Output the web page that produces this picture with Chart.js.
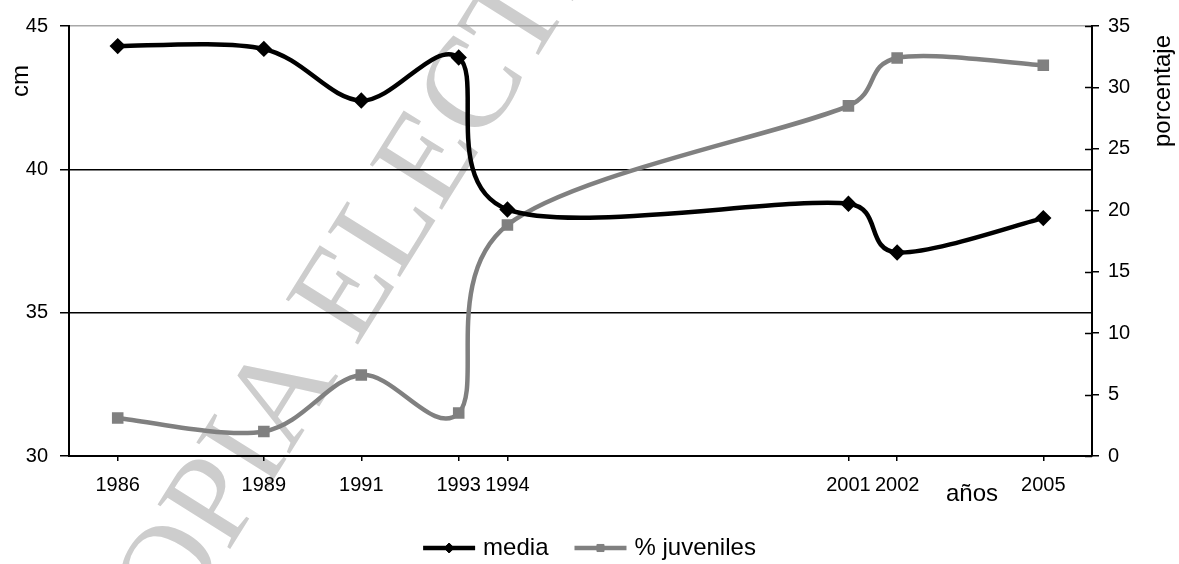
<!DOCTYPE html>
<html>
<head>
<meta charset="utf-8">
<script src="https://cdn.jsdelivr.net/npm/chart.js@4.4.0/dist/chart.umd.min.js"></script>
<style>
  html, body { margin: 0; padding: 0; background: #fff; }
  #wrap { width: 1179px; height: 564px; position: relative; }
</style>
</head>
<body>
<div id="wrap"><canvas id="chart"></canvas></div>
<script>
// Years shown on the x axis
const years = [1986, 1989, 1991, 1993, 1994, 2001, 2002, 2005];
// Mean size (cm) - left axis
const media = [44.3, 44.2, 42.4, 43.9, 38.6, 38.8, 37.1, 38.3];
// % of juveniles - right axis
const juveniles = [3.1, 2.0, 6.6, 3.5, 18.8, 28.5, 32.4, 31.8];
// Axis ticks
const cmTicks = [30, 35, 40, 45];
const pctTicks = [0, 5, 10, 15, 20, 25, 30, 35];

const FONT = 'Liberation Sans, Arial, sans-serif';
const GREY = '#808080';

// Faint diagonal watermark under everything
const watermark = {
  id: 'watermark',
  beforeDraw(chart) {
    const ctx = chart.ctx;
    ctx.save();
    ctx.translate(132, 706);
    ctx.rotate(-58 * Math.PI / 180);
    ctx.font = '130px Liberation Serif, Times New Roman, serif';
    ctx.fillStyle = '#cdcdcd';
    ctx.textBaseline = 'alphabetic';
    ctx.fillText('COPIA ELECTRÓNICA', 0, 0);
    ctx.restore();
  }
};

// Spreadsheet-style smoothing: control points at +-(next - prev) / 6,
// kept within half of the segment they belong to
const smoothLines = {
  id: 'smoothLines',
  beforeDatasetsDraw(chart) {
    const dist = (a, b) => Math.hypot(b.x - a.x, b.y - a.y);
    chart.data.datasets.forEach((ds, i) => {
      const meta = chart.getDatasetMeta(i);
      const pts = meta.data;
      pts.forEach((p, k) => {
        const prev = pts[k - 1] || p;
        const next = pts[k + 1] || p;
        const dx = (next.x - prev.x) / 6;
        const dy = (next.y - prev.y) / 6;
        const len = Math.hypot(dx, dy) || 1;
        const f1 = Math.min(1, dist(p, prev) / 2 / len);
        const f2 = Math.min(1, dist(p, next) / 2 / len);
        p.cp1x = p.x - dx * f1;
        p.cp1y = p.y - dy * f1;
        p.cp2x = p.x + dx * f2;
        p.cp2y = p.y + dy * f2;
      });
      meta.dataset._pointsUpdated = true;
    });
  }
};

// Axis titles, inner ticks of the right axis and the legend
const extras = {
  id: 'extras',
  afterDraw(chart) {
    const ctx = chart.ctx;
    const area = chart.chartArea;
    const y1 = chart.scales.y1;

    ctx.save();
    // inner half of the cross ticks on the right axis
    ctx.strokeStyle = '#000';
    ctx.lineWidth = 1.5;
    pctTicks.forEach(v => {
      const py = Math.round(y1.getPixelForValue(v)) + 0.5;
      ctx.beginPath();
      ctx.moveTo(area.right - 7, py);
      ctx.lineTo(area.right, py);
      ctx.stroke();
    });

    ctx.fillStyle = '#000';
    ctx.font = '24px ' + FONT;
    ctx.textAlign = 'center';
    ctx.textBaseline = 'middle';

    // left title
    ctx.save();
    ctx.translate(21, 81);
    ctx.rotate(-Math.PI / 2);
    ctx.fillText('cm', 0, 0);
    ctx.restore();

    // right title
    ctx.save();
    ctx.translate(1163, 91);
    ctx.rotate(-Math.PI / 2);
    ctx.fillText('porcentaje', 0, 0);
    ctx.restore();

    // x title
    ctx.fillText('años', 972, 494);

    // legend
    const items = [
      { label: 'media', color: '#000', style: 'rectRot' },
      { label: '% juveniles', color: GREY, style: 'rect' }
    ];
    const lineW = 52, gapText = 8, gapItem = 26;
    let total = 0;
    items.forEach((it, i) => {
      it.w = ctx.measureText(it.label).width;
      total += lineW + gapText + it.w + (i ? gapItem : 0);
    });
    let x = chart.width / 2 - total / 2;
    const ly = 548;
    ctx.textAlign = 'left';
    items.forEach((it, i) => {
      if (i) x += gapItem;
      ctx.strokeStyle = it.color;
      ctx.lineWidth = 4.5;
      ctx.beginPath();
      ctx.moveTo(x, ly);
      ctx.lineTo(x + lineW, ly);
      ctx.stroke();
      ctx.fillStyle = it.color;
      ctx.lineWidth = 1;
      Chart.helpers.drawPoint(ctx, {
        pointStyle: it.style, radius: 5, rotation: 0, borderWidth: 1
      }, x + lineW / 2, ly);
      ctx.fillStyle = '#000';
      ctx.fillText(it.label, x + lineW + gapText, ly);
      x += lineW + gapText + it.w;
    });
    ctx.restore();
  }
};

const ctx = document.getElementById('chart');

new Chart(ctx, {
  type: 'line',
  data: {
    datasets: [
      {
        label: 'media',
        data: years.map((yr, i) => ({ x: yr, y: media[i] })),
        yAxisID: 'y',
        borderColor: '#000',
        backgroundColor: '#000',
        borderWidth: 4.5,
        pointStyle: 'rectRot',
        pointRadius: 5,
        tension: 0.4
      },
      {
        label: '% juveniles',
        data: years.map((yr, i) => ({ x: yr, y: juveniles[i] })),
        yAxisID: 'y1',
        borderColor: GREY,
        backgroundColor: GREY,
        borderWidth: 4.5,
        pointStyle: 'rect',
        pointRadius: 5,
        tension: 0.4
      }
    ]
  },
  options: {
    responsive: true,
    maintainAspectRatio: false,
    animation: false,
    layout: { padding: { top: 26, left: 0, right: 0, bottom: 0 } },
    plugins: {
      legend: { display: false },
      tooltip: { enabled: false }
    },
    scales: {
      x: {
        type: 'linear',
        min: 1985,
        max: 2006,
        afterBuildTicks(scale) {
          scale.ticks = years.map(v => ({ value: v }));
        },
        afterFit(scale) { scale.height = 108; },
        grid: {
          drawOnChartArea: false,
          drawTicks: true,
          tickLength: 5,
          tickColor: '#000',
          lineWidth: 1.5
        },
        border: { display: true, color: '#000', width: 2 },
        ticks: {
          autoSkip: false,
          maxRotation: 0,
          padding: 12,
          color: '#000',
          font: { family: FONT, size: 20 },
          callback: v => String(v)
        }
      },
      y: {
        position: 'left',
        min: 30,
        max: 45,
        afterBuildTicks(scale) {
          scale.ticks = cmTicks.map(v => ({ value: v }));
        },
        afterFit(scale) { scale.width = 69; },
        grid: {
          color: c => (c.tick && c.tick.value === 45 ? '#a8a8a8' : '#000'),
          lineWidth: 1.5,
          tickLength: 9,
          tickColor: '#000'
        },
        border: { display: true, color: '#000', width: 2 },
        ticks: {
          padding: 12,
          color: '#000',
          font: { family: FONT, size: 20 }
        }
      },
      y1: {
        position: 'right',
        min: 0,
        max: 35,
        afterBuildTicks(scale) {
          scale.ticks = pctTicks.map(v => ({ value: v }));
        },
        afterFit(scale) { scale.width = 87; },
        grid: {
          drawOnChartArea: false,
          lineWidth: 1.5,
          tickLength: 7,
          tickColor: '#000'
        },
        border: { display: true, color: '#000', width: 2 },
        ticks: {
          padding: 9,
          color: '#000',
          font: { family: FONT, size: 20 }
        }
      }
    }
  },
  plugins: [watermark, smoothLines, extras]
});
</script>
</body>
</html>
